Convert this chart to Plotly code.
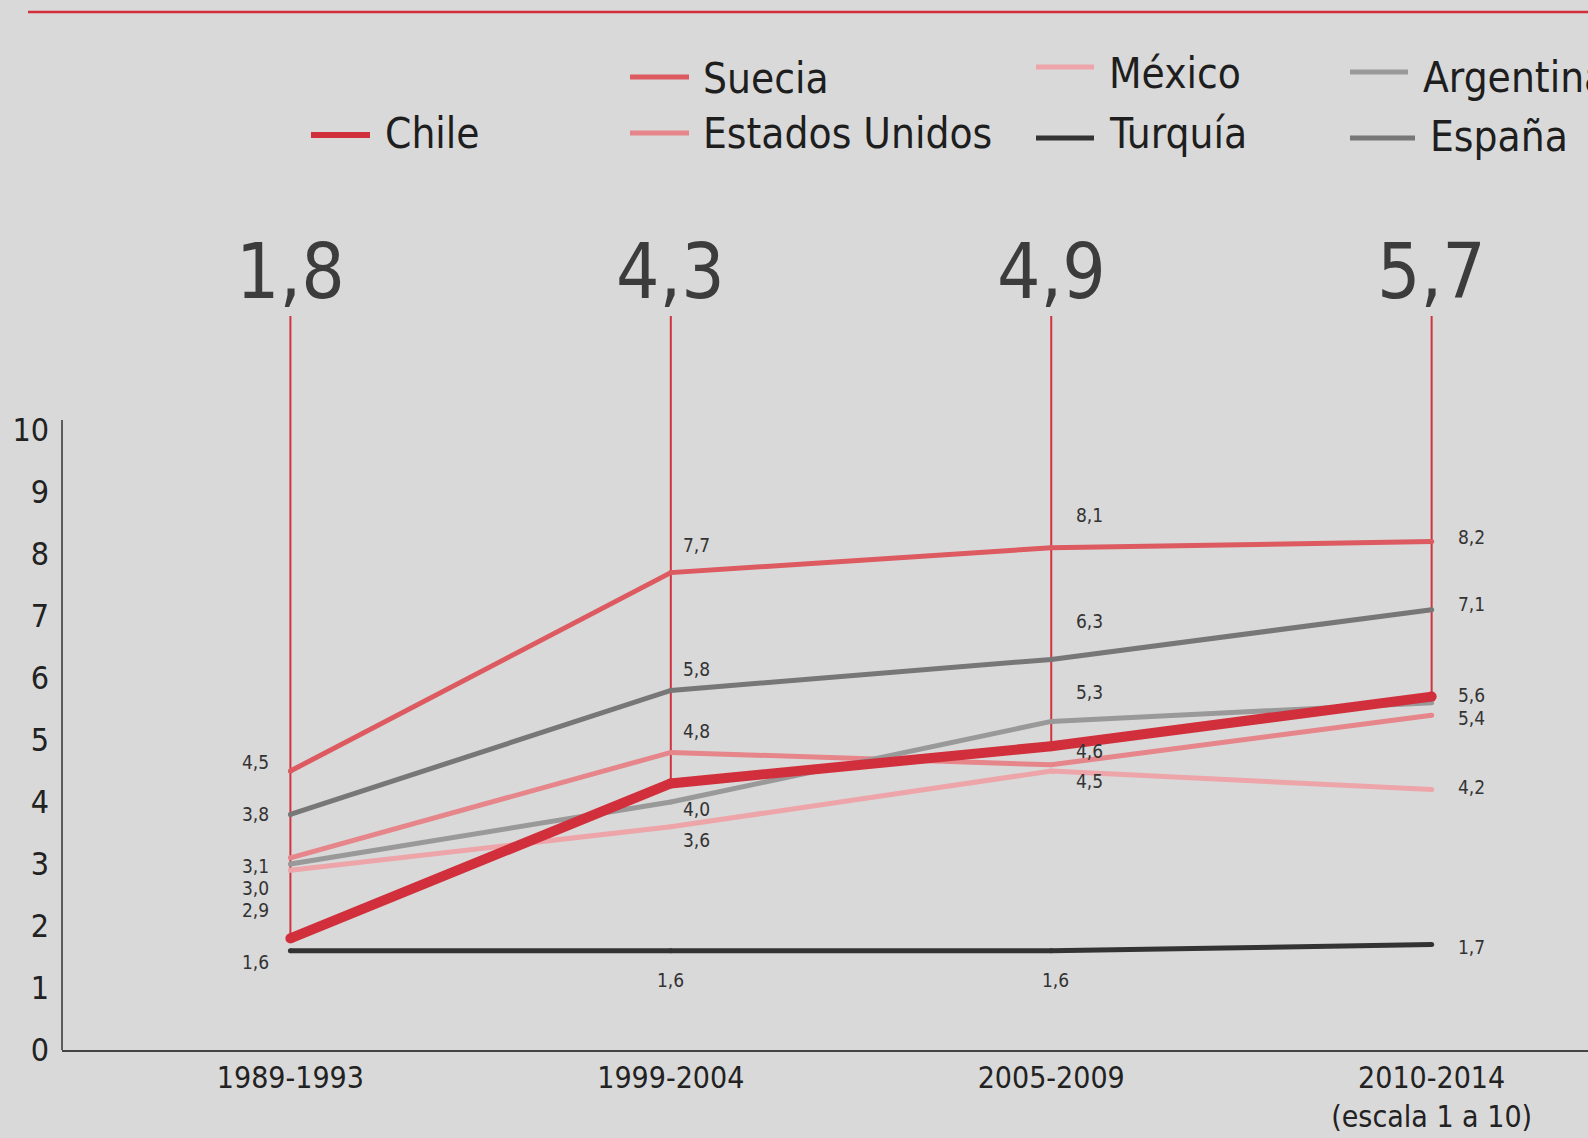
import plotly.graph_objects as go

# ---------------- data ----------------
categories = ["1989-1993", "1999-2004", "2005-2009", "2010-2014"]
chile = [1.8, 4.3, 4.9, 5.7]
suecia = [4.5, 7.7, 8.1, 8.2]
estados_unidos = [3.1, 4.8, 4.6, 5.4]
mexico = [2.9, 3.6, 4.5, 4.2]
turquia = [1.6, 1.6, 1.6, 1.7]
argentina = [3.0, 4.0, 5.3, 5.6]
espana = [3.8, 5.8, 6.3, 7.1]
y_ticks = list(range(0, 11))
scale_note = "(escala 1 a 10)"

# ---------------- style ----------------
W, H = 1588, 1138
ML, MR, MT, MB = 62, 0, 182, 88
Y_MAX = 14.0
X_RANGE = [-0.6004, 3.411]
BG = "#d9d9d9"
FONT = "Liberation Sans Narrow, Arial Narrow, DejaVu Sans Condensed, sans-serif"
RED = "#d12f3b"
STEM_TOP = 11.84
BIG_Y = 12.56
AXIS_TOP = 10.16


def px_x(p):
    return (p - ML) / (W - ML - MR)


def px_y(p):
    return (H - MB - p) / (H - MT - MB)


def fmt(v):
    return f"{v:.1f}".replace(".", ",")


series = [
    # name, values, color, width
    ("Turquía", turquia, "#333333", 5),
    ("México", mexico, "#eda5a9", 5),
    ("Estados Unidos", estados_unidos, "#e6858a", 5),
    ("Argentina", argentina, "#999999", 5),
    ("España", espana, "#777777", 5),
    ("Suecia", suecia, "#dc5a60", 5),
    ("Chile", chile, RED, 10),
]

# label placement per series: (xanchor, xshift px, yshift px) for each category
label_style = {
    "Suecia": [("right", -19, 9), ("left", 10, 28), ("left", 23, 33), ("left", 24, 5)],
    "España": [("right", -19, 0), ("left", 10, 21), ("left", 23, 38), ("left", 24, 6)],
    "Estados Unidos": [("right", -19, -8), ("left", 10, 21), ("left", 23, 14), ("left", 24, -3)],
    "Argentina": [("right", -19, -24), ("left", 10, -7), ("left", 23, 29), ("left", 24, 8)],
    "México": [("right", -19, -40), ("left", 10, -13), ("left", 23, -10), ("left", 24, 3)],
    "Turquía": [("right", -19, -11), ("center", 0, -29), ("center", 4, -29), ("left", 24, -2)],
}

# legend layout in pixels: swatch x0, x1, swatch y, text x, text y, thickness
legend_style = {
    "Chile": (311, 370, 135, 383, 133, 6),
    "Suecia": (630, 689, 77, 701, 78, 5),
    "Estados Unidos": (630, 689, 133, 701, 133, 5),
    "México": (1036, 1094, 67, 1107, 74, 5),
    "Turquía": (1036, 1094, 138, 1107, 133, 5),
    "Argentina": (1350, 1408, 72, 1421, 77, 5),
    "España": (1350, 1415, 138, 1428, 137, 5),
}

fig = go.Figure()

# stems from Chile value up to the big number
sx, sy = [], []
for c, v in zip(categories, chile):
    sx += [c, c, None]
    sy += [v, STEM_TOP, None]
fig.add_trace(go.Scatter(x=sx, y=sy, mode="lines", line=dict(color="#d0343f", width=2),
                         hoverinfo="skip", showlegend=False))

for name, vals, color, width in series:
    fig.add_trace(go.Scatter(
        x=categories, y=vals, mode="lines+markers", name=name,
        line=dict(color=color, width=width),
        marker=dict(color=color, size=width, line=dict(width=0)),
        showlegend=False,
    ))

annotations = []
# data labels
for name, vals, color, width in series:
    if name not in label_style:
        continue
    for c, v, (anc, dx, dy) in zip(categories, vals, label_style[name]):
        annotations.append(dict(
            x=c, y=v, xref="x", yref="y", text=fmt(v), showarrow=False,
            xanchor=anc, yanchor="middle", xshift=dx, yshift=dy,
            font=dict(family=FONT, size=19, color="#333333"),
        ))

# big Chile numbers
for c, v in zip(categories, chile):
    annotations.append(dict(
        x=c, y=BIG_Y, xref="x", yref="y", text=fmt(v), showarrow=False,
        xanchor="center", yanchor="middle",
        font=dict(family=FONT, size=76, color="#3c3c3c"),
    ))

shapes = []
# top red rule
shapes.append(dict(type="line", xref="paper", yref="paper",
                   x0=px_x(28), x1=px_x(W), y0=px_y(12), y1=px_y(12),
                   line=dict(color=RED, width=2.5)))
# y axis line
shapes.append(dict(type="line", xref="paper", yref="paper",
                   x0=0, x1=0, y0=0, y1=AXIS_TOP / Y_MAX,
                   line=dict(color="#333333", width=1.5)))

# legend
color_of = {name: color for name, _, color, _ in series}
for name, (x0, x1, sy_, tx, ty, th) in legend_style.items():
    shapes.append(dict(type="line", xref="paper", yref="paper",
                       x0=px_x(x0), x1=px_x(x1), y0=px_y(sy_), y1=px_y(sy_),
                       line=dict(color=color_of[name], width=th)))
    annotations.append(dict(
        x=px_x(tx), y=px_y(ty), xref="paper", yref="paper", text=name,
        showarrow=False, xanchor="left", yanchor="middle",
        font=dict(family=FONT, size=42, color="#1e1e1e"),
    ))

tick_text = list(categories)
tick_text[-1] = categories[-1] + "<br>" + scale_note

fig.update_layout(
    width=W, height=H,
    margin=dict(l=ML, r=MR, t=MT, b=MB, pad=0, autoexpand=False),
    paper_bgcolor=BG, plot_bgcolor=BG,
    showlegend=False,
    annotations=annotations,
    shapes=shapes,
    xaxis=dict(
        type="category", range=X_RANGE, showgrid=False, zeroline=False,
        showline=True, linecolor="#444444", linewidth=1.5, automargin=False,
        tickmode="array", tickvals=categories, ticktext=tick_text,
        ticks="", ticklabelstandoff=0,
        tickfont=dict(family=FONT, size=30, color="#222222"),
    ),
    yaxis=dict(
        range=[0, Y_MAX], tickvals=y_ticks, ticktext=[str(t) for t in y_ticks],
        showgrid=False, zeroline=False, showline=False, automargin=False,
        ticks="", ticklabelstandoff=12,
        tickfont=dict(family=FONT, size=32, color="#222222"),
    ),
)

fig.write_html("out.html", config={"displayModeBar": False},
               post_script="document.body.style.margin='0';")
